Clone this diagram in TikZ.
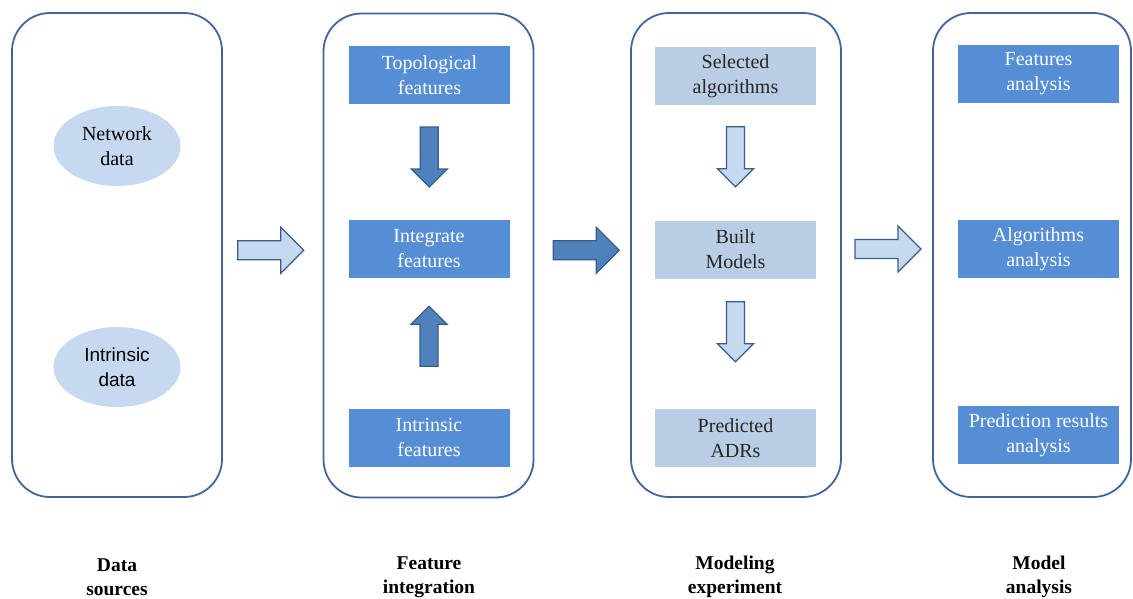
\documentclass[tikz,border=0pt]{standalone}
\usepackage{fontspec}
\newfontfamily\timesfont{Liberation Serif}
\newfontfamily\arialfont{Liberation Sans}
\usetikzlibrary{calc,shapes.geometric}

\definecolor{panelblue}{RGB}{65,101,154}
\definecolor{boxdark}{RGB}{85,142,213}
\definecolor{boxlight}{RGB}{185,205,229}
\definecolor{ovalfill}{RGB}{198,217,241}
\definecolor{arrowdark}{RGB}{79,129,189}
\definecolor{arrowlight}{RGB}{198,217,241}
\definecolor{arrowline}{RGB}{56,93,138}

\tikzset{
  panel/.style={draw=panelblue, line width=1.8pt, rounded corners=38pt,
    minimum width=210pt, minimum height=484pt, inner sep=0pt},
  darkbox/.style={fill=boxdark, text=white, minimum width=161pt, minimum height=58pt,
    align=center, inner sep=0pt, font=\timesfont\fontsize{20}{25}\selectfont},
  lightbox/.style={darkbox, fill=boxlight, text=black!85},
  oval/.style={ellipse, fill=ovalfill, minimum width=127pt, minimum height=80pt,
    align=center, inner sep=0pt, font=\timesfont\fontsize{20}{25}\selectfont},
  stage/.style={align=center, font=\timesfont\bfseries\fontsize{19.5}{24}\selectfont},
  darkarrow/.style={draw=arrowline, fill=arrowdark, line width=1.3pt},
  lightarrow/.style={draw=arrowline, fill=arrowlight, line width=1.3pt},
  harrow/.pic={\draw[pic actions] (-33,-9.5) -- (10,-9.5) -- (10,-23) -- (33,0)
    -- (10,23) -- (10,9.5) -- (-33,9.5) -- cycle;},
  varrow/.pic={\draw[pic actions] (-30,-9) -- (12,-9) -- (12,-18) -- (30,0)
    -- (12,18) -- (12,9) -- (-30,9) -- cycle;}
}

\begin{document}
\begin{tikzpicture}[x=1pt,y=-1pt]
  \useasboundingbox (0,0) rectangle (1133,598);

  % panels
  \node[panel] (sources) at (117,255) {};
  \node[panel] (integration) at (428.5,255.5) {};
  \node[panel] (modeling) at (736,255) {};
  \node[panel, minimum width=198pt] (analysis) at (1032,255) {};

  % data sources
  \node[oval] (network) at (117,146) {Network\\data};
  \node[oval, font=\arialfont\fontsize{19}{25}\selectfont] (intrinsic) at (117,367) {Intrinsic\\data};

  % feature integration
  \node[darkbox] (topo) at (429.5,75) {Topological\\features};
  \node[darkbox] (integ) at (429,249) {Integrate\\features};
  \node[darkbox] (intrfeat) at (429,437.5) {Intrinsic\\features};

  % modeling experiment
  \node[lightbox] (selected) at (735.5,76) {Selected\\algorithms};
  \node[lightbox] (built) at (735.5,249.5) {Built\\Models};
  \node[lightbox] (predicted) at (735.5,438) {Predicted\\ADRs};

  % model analysis
  \node[darkbox] (featan) at (1038.5,74) {Features\\analysis};
  \node[darkbox] (algan) at (1038.5,249) {Algorithms\\analysis};
  \node[darkbox] (predan) at (1038.5,435) {Prediction results\\analysis};

  % arrows inside the panels
  \pic[darkarrow, rotate=-90] at ($(topo.south)!0.5!(integ.north)+(0,-5)$) {varrow};
  \pic[darkarrow, rotate=90] at ($(intrfeat.north)!0.5!(integ.south)+(0,-7)$) {varrow};
  \pic[lightarrow, rotate=-90] at ($(selected.south)!0.5!(built.north)+(0,-6)$) {varrow};
  \pic[lightarrow, rotate=-90] at ($(built.south)!0.5!(predicted.north)+(0,-12)$) {varrow};

  % arrows between the panels
  \pic[lightarrow] at ($(sources.east)!0.5!(integration.west)+(-2,-5)$) {harrow};
  \pic[darkarrow] at ($(integration.east)!0.5!(modeling.west)+(4,-5)$) {harrow};
  \pic[lightarrow] at ($(modeling.east)!0.5!(analysis.west)+(1,-6)$) {harrow};

  % stage labels
  \node[stage] (lsources) at (117,577) {Data\\sources};
  \node[stage] (lintegration) at (429,577) {Feature\\integration};
  \node[stage] (lmodeling) at (735,577) {Modeling\\experiment};
  \node[stage] (lanalysis) at (1039,577) {Model\\analysis};
\end{tikzpicture}
\end{document}
